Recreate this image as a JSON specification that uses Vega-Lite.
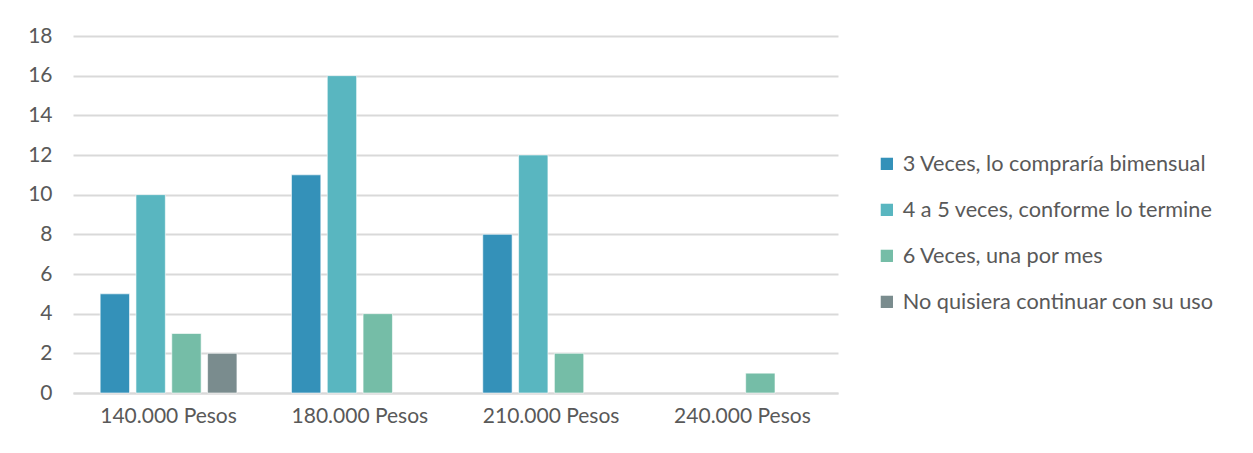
{
  "$schema": "https://vega.github.io/schema/vega-lite/v6.json",
  "width": 765,
  "height": 357,
  "autosize": {"type": "none"},
  "padding": {"left": 73, "top": 36, "right": 415, "bottom": 60},
  "background": "white",
  "data": {
    "values": [
      {"precio": "140.000 Pesos", "serie": "3 Veces, lo compraría bimensual", "valor": 5},
      {"precio": "140.000 Pesos", "serie": "4 a 5 veces, conforme lo termine", "valor": 10},
      {"precio": "140.000 Pesos", "serie": "6 Veces, una por mes", "valor": 3},
      {"precio": "140.000 Pesos", "serie": "No quisiera continuar con su uso", "valor": 2},
      {"precio": "180.000 Pesos", "serie": "3 Veces, lo compraría bimensual", "valor": 11},
      {"precio": "180.000 Pesos", "serie": "4 a 5 veces, conforme lo termine", "valor": 16},
      {"precio": "180.000 Pesos", "serie": "6 Veces, una por mes", "valor": 4},
      {"precio": "210.000 Pesos", "serie": "3 Veces, lo compraría bimensual", "valor": 8},
      {"precio": "210.000 Pesos", "serie": "4 a 5 veces, conforme lo termine", "valor": 12},
      {"precio": "210.000 Pesos", "serie": "6 Veces, una por mes", "valor": 2},
      {"precio": "240.000 Pesos", "serie": "6 Veces, una por mes", "valor": 1}
    ]
  },
  "mark": {"type": "bar", "stroke": "white", "strokeOpacity": 0.6, "strokeWidth": 1},
  "encoding": {
    "x": {
      "field": "precio", "type": "nominal", "title": null,
      "scale": {"domain": ["140.000 Pesos", "180.000 Pesos", "210.000 Pesos", "240.000 Pesos"], "paddingInner": 0.285, "paddingOuter": 0.142},
      "axis": {"labelAngle": 0, "ticks": false, "domain": true, "domainColor": "#d9d9d9", "domainWidth": 2, "labelFontSize": 21, "labelColor": "#595959", "labelFont": "Lato", "labelPadding": 12}
    },
    "xOffset": {
      "field": "serie", "type": "nominal",
      "scale": {"domain": ["3 Veces, lo compraría bimensual", "4 a 5 veces, conforme lo termine", "6 Veces, una por mes", "No quisiera continuar con su uso"], "paddingInner": 0.18}
    },
    "y": {
      "field": "valor", "type": "quantitative", "title": null,
      "scale": {"domain": [0, 18]},
      "axis": {"values": [0, 2, 4, 6, 8, 10, 12, 14, 16, 18], "ticks": false, "domain": false, "gridColor": "#d9d9d9", "gridWidth": 2, "labelFontSize": 21, "labelColor": "#595959", "labelFont": "Lato", "labelPadding": 21}
    },
    "color": {
      "field": "serie", "type": "nominal",
      "scale": {"domain": ["3 Veces, lo compraría bimensual", "4 a 5 veces, conforme lo termine", "6 Veces, una por mes", "No quisiera continuar con su uso"], "range": ["#3491B9", "#59B6C0", "#75BDA7", "#7A8C8E"]},
      "legend": {"title": null, "orient": "none", "legendX": 803, "legendY": 117, "symbolType": "square", "symbolSize": 150, "symbolStrokeWidth": 0, "labelFontSize": 21.7, "labelColor": "#595959", "labelFont": "Lato", "labelLimit": 500, "rowPadding": 23, "labelOffset": 5}
    }
  },
  "config": {"view": {"stroke": null}}
}
